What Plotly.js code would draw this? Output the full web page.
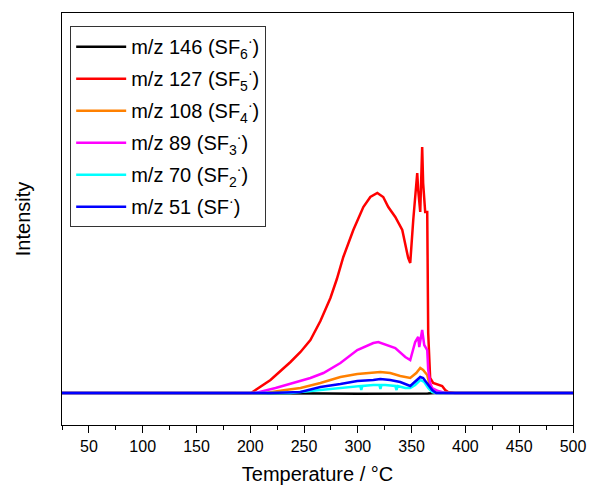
<!DOCTYPE html>
<html>
<head>
<meta charset="utf-8">
<script src="https://cdn.plot.ly/plotly-3.0.1.min.js"></script>
<style>html,body{margin:0;padding:0;background:#fff;}#chart{width:589px;height:489px;}</style>
</head>
<body>
<div id="chart"></div>
<script>
// Temperatures (°C) and intensities (arbitrary units)
const names = ["m/z 146 (SF<sub>6</sub><sup>·</sup>)", "m/z 127 (SF<sub>5</sub><sup>·</sup>)", "m/z 108 (SF<sub>4</sub><sup>·</sup>)", "m/z 89 (SF<sub>3</sub><sup>·</sup>)", "m/z 70 (SF<sub>2</sub><sup>·</sup>)", "m/z 51 (SF<sup>·</sup>)"];
const colors = ["#000000", "#ff0000", "#ff8000", "#ff00ff", "#00ffff", "#0000ff"];

const t146 = [25, 240, 270, 300, 330, 350, 365, 372, 390, 500];
const i146 = [0, 0, -0.5, -0.8, -0.8, -0.8, -0.5, 0, 0, 0];

const t127 = [25, 200.3, 202.1, 209.5, 218.8, 228.1, 237.4, 246.7, 255.9, 265.2, 274.5, 280.5, 286.5, 295.8, 305.1, 311.6, 318.1, 323.6, 328.3, 334.8, 341.3, 346.8, 348.7, 351.5, 355.2, 356.1, 358.0, 359.8, 360.7, 362.6, 364.5, 365.4, 367.2, 370.0, 372.8, 374.7, 378.4, 381.2, 383.9, 390.4, 500];
const i127 = [0, 0, 1, 6, 13, 22, 31, 41, 53, 72, 95, 114, 136, 163, 186, 196, 200, 196, 186, 176, 163, 135, 130, 173, 220, 203, 181, 246, 210, 181, 181, 60, 15, 10, 9, 8, 7, 3, 1, 0, 0];

const t108 = [25, 214.2, 232.7, 246.7, 265.2, 283.8, 299.5, 314.4, 320.9, 330.1, 339.4, 348.7, 354.3, 358.0, 360.7, 364.5, 367.2, 370.0, 376.5, 500];
const i108 = [0, 0, 3, 5, 10, 16, 19, 20.5, 21, 20, 17, 15, 20, 25, 23, 18, 6, 1, 0, 0];

const t89 = [25, 204.9, 223.5, 237.4, 255.9, 268.0, 283.8, 299.5, 314.4, 319.0, 327.4, 334.8, 344.1, 348.7, 353.3, 356.1, 357.1, 359.8, 361.7, 364.5, 365.4, 367.2, 369.1, 374.7, 381.2, 500];
const i89 = [0, 0, 5, 9, 15, 20, 30, 43, 50, 51, 48, 45, 36, 33, 51, 56, 46, 63, 48, 43, 23, 10, 5, 2, 0, 0];

const t70 = [25, 237.4, 255.9, 274.5, 288.4, 295.8, 302.3, 303.2, 304.2, 314.4, 320.0, 321.0, 322.0, 325.5, 334.8, 336.0, 337.0, 344.1, 348.7, 353.3, 358.0, 361.7, 365.4, 369.1, 372.8, 500];
const i70 = [0, 0, 2, 4, 6, 7, 7, 3, 7, 8, 8, 4, 8, 8, 7, 3, 7, 5, 5, 8, 13, 11, 5, 1, 0, 0];

const t51 = [25, 218.8, 246.7, 265.2, 283.8, 299.5, 314.4, 320.9, 330.1, 339.4, 348.7, 353.3, 358.0, 360.7, 364.5, 369.1, 372.8, 500];
const i51 = [0, 0, 1, 6, 9, 12, 13, 14, 13, 11, 7, 11, 16, 15, 10, 3, 0, 0];

const tickVals = [50, 100, 150, 200, 250, 300, 350, 400, 450, 500];
const tickText = ["50", "100", "150", "200", "250", "300", "350", "400", "450", "500"];

const xs = [t146, t127, t108, t89, t70, t51];
const ys = [i146, i127, i108, i89, i70, i51];

const traces = xs.map((x, k) => ({
  x: x, y: ys[k], type: "scatter", mode: "lines", name: names[k],
  legendgroup: "g" + k,
  line: {color: colors[k], width: 2.5}
}));

const font = "Arial, 'Liberation Sans', sans-serif";
const layout = {
  width: 589, height: 489,
  margin: {l: 62, r: 16, t: 13, b: 64},
  paper_bgcolor: "#fff", plot_bgcolor: "#fff",
  font: {family: font, color: "#000"},
  showlegend: true,
  legend: {
    x: 0.016, y: 0.968, xanchor: "left", yanchor: "top",
    bordercolor: "#333", borderwidth: 1, bgcolor: "#fff",
    font: {family: font, size: 20, color: "#000"},
    tracegroupgap: 3, itemwidth: 50
  },
  xaxis: {
    range: [25, 500], showgrid: false, zeroline: false,
    showline: true, linecolor: "#000", linewidth: 1.2, mirror: true,
    ticks: "outside", ticklen: 7, tickwidth: 1, tickcolor: "#000",
    tickvals: tickVals, ticktext: tickText,
    tickfont: {family: font, size: 16, color: "#000"},
    minor: {dtick: 25, tick0: 25, ticks: "outside", ticklen: 4, tickcolor: "#000", showgrid: false},
    title: {text: "Temperature / °C", font: {family: font, size: 20, color: "#000"}, standoff: 12}
  },
  yaxis: {
    range: [-32, 380], showgrid: false, zeroline: false,
    showline: true, linecolor: "#000", linewidth: 1.2, mirror: true,
    ticks: "", showticklabels: false,
    title: {text: "Intensity", font: {family: font, size: 20, color: "#000"}, standoff: 24}
  }
};

Plotly.newPlot("chart", traces, layout, {staticPlot: true, displayModeBar: false});
</script>
</body>
</html>
